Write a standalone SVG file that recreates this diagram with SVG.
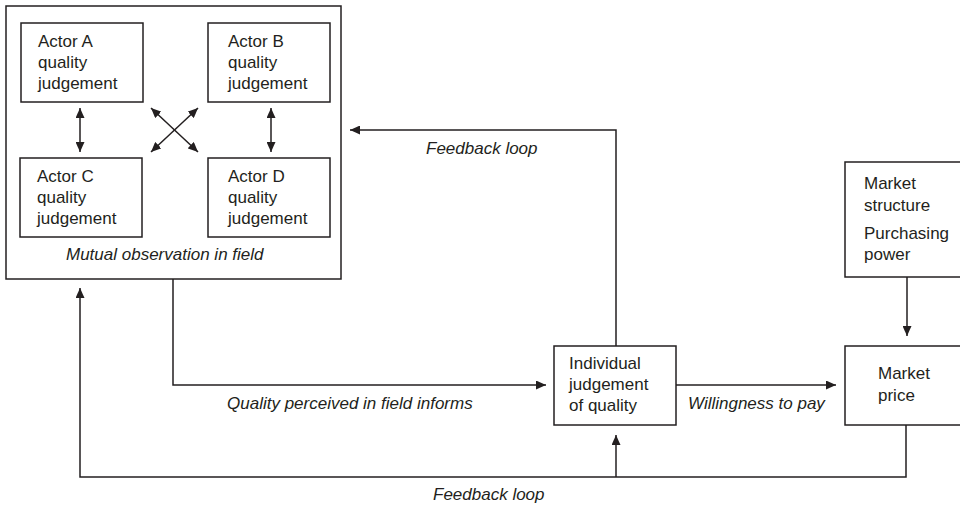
<svg xmlns="http://www.w3.org/2000/svg" width="960" height="508" viewBox="0 0 960 508">
<defs>
<style>
.box{fill:#fff;stroke:#231f20;stroke-width:1.5}
.ln{fill:none;stroke:#231f20;stroke-width:1.5}
.t{font-family:"Liberation Sans",Arial,sans-serif;font-size:17px;fill:#231f20}
.i{font-style:italic}
</style>
<marker id="ah" viewBox="0 0 10 9" refX="10" refY="4.5" markerWidth="10" markerHeight="9" markerUnits="userSpaceOnUse" orient="auto-start-reverse">
<path d="M0,0 L10,4.5 L0,9 z" fill="#231f20"/>
</marker>
</defs>
<rect width="960" height="508" fill="#fff"/>
<g id="field">
<rect class="box" x="6" y="6" width="335" height="273"/>
<text class="t i" x="66" y="260">Mutual observation in field</text>
</g>
<g id="actorA">
<rect class="box" x="21" y="23" width="122" height="79"/>
<text class="t" x="38" y="47">Actor A</text>
<text class="t" x="38" y="68">quality</text>
<text class="t" x="38" y="89">judgement</text>
</g>
<g id="actorB">
<rect class="box" x="208" y="23" width="122" height="79"/>
<text class="t" x="228" y="47">Actor B</text>
<text class="t" x="228" y="68">quality</text>
<text class="t" x="228" y="89">judgement</text>
</g>
<g id="actorC">
<rect class="box" x="20" y="158" width="122" height="79"/>
<text class="t" x="37" y="182">Actor C</text>
<text class="t" x="37" y="203">quality</text>
<text class="t" x="37" y="224">judgement</text>
</g>
<g id="actorD">
<rect class="box" x="208" y="158" width="122" height="79"/>
<text class="t" x="228" y="182">Actor D</text>
<text class="t" x="228" y="203">quality</text>
<text class="t" x="228" y="224">judgement</text>
</g>
<g id="individual">
<rect class="box" x="554" y="346" width="122" height="79"/>
<text class="t" x="569" y="369">Individual</text>
<text class="t" x="569" y="390">judgement</text>
<text class="t" x="569" y="411">of quality</text>
</g>
<g id="marketStructure">
<rect class="box" x="845" y="162" width="120" height="115"/>
<text class="t" x="864" y="189">Market</text>
<text class="t" x="864" y="211">structure</text>
<text class="t" x="864" y="239">Purchasing</text>
<text class="t" x="864" y="260">power</text>
</g>
<g id="marketPrice">
<rect class="box" x="845" y="346" width="120" height="79"/>
<text class="t" x="878" y="379">Market</text>
<text class="t" x="878" y="401">price</text>
</g>
<g id="connectors">
<line class="ln" x1="80" y1="108" x2="80" y2="152" marker-start="url(#ah)" marker-end="url(#ah)"/>
<line class="ln" x1="271" y1="108" x2="271" y2="152" marker-start="url(#ah)" marker-end="url(#ah)"/>
<line class="ln" x1="151" y1="108" x2="198" y2="152" marker-start="url(#ah)" marker-end="url(#ah)"/>
<line class="ln" x1="198" y1="108" x2="151" y2="152" marker-start="url(#ah)" marker-end="url(#ah)"/>
<path class="ln" d="M173,279 V385 H546" marker-end="url(#ah)"/>
<path class="ln" d="M676,385 H836" marker-end="url(#ah)"/>
<path class="ln" d="M616,346 V130 H350" marker-end="url(#ah)"/>
<path class="ln" d="M907,277 V336" marker-end="url(#ah)"/>
<path class="ln" d="M906,425 V477 H80 V288" marker-end="url(#ah)"/>
<path class="ln" d="M616,477 V435" marker-end="url(#ah)"/>
<text class="t i" x="426" y="154">Feedback loop</text>
<text class="t i" x="227" y="409">Quality perceived in field informs</text>
<text class="t i" x="688" y="409">Willingness to pay</text>
<text class="t i" x="433" y="500">Feedback loop</text>
</g>
</svg>
